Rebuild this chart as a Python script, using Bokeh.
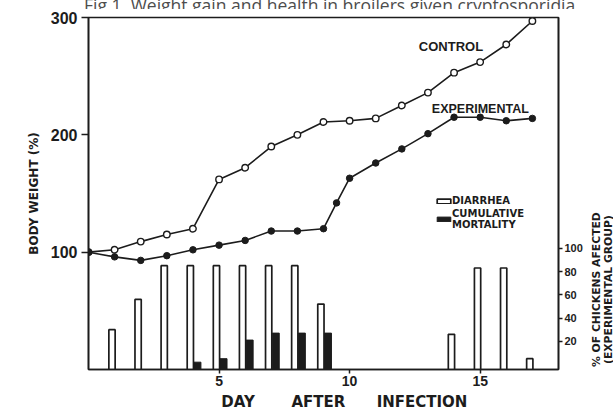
from bokeh.plotting import figure
from bokeh.layouts import column, row
from bokeh.models import Range1d, LinearAxis, FixedTicker, Label, Legend, LegendItem, Div
from bokeh.embed import file_html
from bokeh.resources import INLINE

# ---- data ----
control_days = [0, 1, 2, 3, 4, 5, 6, 7, 8, 9, 10, 11, 12, 13, 14, 15, 16, 17]
control = [100, 102, 109, 115, 120, 162, 172, 190, 200, 211, 212, 214, 225, 236, 253, 262, 277, 297]
exp_days = [0, 1, 2, 3, 4, 5, 6, 7, 8, 9, 9.5, 10, 11, 12, 13, 14, 15, 16, 17]
experimental = [100, 96, 93, 97, 102, 106, 110, 118, 118, 120, 142, 163, 176, 188, 201, 215, 215, 212, 214]
diarrhea_days = [1, 2, 3, 4, 5, 6, 7, 8, 9, 14, 15, 16, 17]
diarrhea = [30, 56, 85, 85, 85, 85, 85, 85, 52, 26, 83, 83, 5]
mortality_days = [4, 5, 6, 7, 8, 9]
mortality = [2, 5, 21, 27, 27, 27]
x_ticks = [5, 10, 15]
y_ticks = [100, 200, 300]
pct_ticks = [20, 40, 60, 80, 100]

TITLE = "Fig 1. Weight gain and health in broilers given cryptosporidia"
RIGHT_LABEL = ["% OF CHICKENS AFECTED", "(EXPERIMENTAL GROUP)"]
INK = "#1c1c1c"
FONT = "Liberation Sans"
BOLD = "DejaVu Sans"
NB = "\u00a0"

p = figure(width=588, height=404, output_backend="svg", toolbar_location=None,
           x_range=Range1d(0, 18), y_range=Range1d(0, 300),
           min_border_left=88, min_border_right=30, min_border_top=8, min_border_bottom=44)
p.extra_y_ranges = {"pct": Range1d(-4.3, 298.5)}
p.grid.visible = False
p.outline_line_color = INK
p.outline_line_width = 1.6

# axes
for ax in (p.xaxis[0], p.yaxis[0]):
    ax.axis_line_color = INK
    ax.axis_line_width = 1.6
    ax.major_tick_line_color = INK
    ax.major_tick_line_width = 1.5
    ax.minor_tick_line_color = None
    ax.major_tick_in = 0
    ax.major_label_text_font = FONT
    ax.major_label_text_font_style = "bold"
    ax.major_label_text_color = INK
    ax.axis_label_text_font = BOLD
    ax.axis_label_text_font_style = "bold"
    ax.axis_label_text_color = INK

p.xaxis.ticker = FixedTicker(ticks=x_ticks)
p.xaxis.major_tick_out = 4
p.xaxis.major_label_standoff = 2
p.xaxis.major_label_text_font_size = "14px"
p.xaxis.axis_label = NB * 8 + "DAY" + NB * 7 + "AFTER" + NB * 6 + "INFECTION"
p.xaxis.axis_label_text_font_size = "15px"
p.xaxis.axis_label_standoff = 4

p.yaxis.ticker = FixedTicker(ticks=y_ticks)
p.yaxis.major_tick_out = 7
p.yaxis.major_label_standoff = 4
p.yaxis.major_label_text_font_size = "16px"
p.yaxis.axis_label = "BODY WEIGHT (%)"
p.yaxis.axis_label_text_font_size = "12px"
p.yaxis.axis_label_standoff = 7

rax = LinearAxis(y_range_name="pct", ticker=FixedTicker(ticks=pct_ticks))
rax.axis_line_color = INK
rax.axis_line_width = 1.6
rax.major_tick_line_color = INK
rax.major_tick_line_width = 1.5
rax.major_tick_in = 0
rax.major_tick_out = 4
rax.minor_tick_line_color = None
rax.major_label_standoff = 2
rax.major_label_text_font = FONT
rax.major_label_text_font_style = "bold"
rax.major_label_text_font_size = "11px"
rax.major_label_text_color = INK
p.add_layout(rax, "right")

base = p.extra_y_ranges["pct"].start

# bars
r_d = p.vbar(x=[d - 0.1 for d in diarrhea_days], top=diarrhea, bottom=base, width=0.24,
             y_range_name="pct", fill_color="white", line_color=INK, line_width=1.7)
r_m = p.vbar(x=[d + 0.17 for d in mortality_days], top=mortality, bottom=base, width=0.27,
             y_range_name="pct", fill_color=INK, line_color=INK, line_width=1)

# lines
p.line(control_days, control, line_color=INK, line_width=1.6)
p.scatter(control_days, control, size=6.5, fill_color="white", line_color=INK, line_width=1.4)
p.line(exp_days, experimental, line_color=INK, line_width=1.6)
p.scatter(exp_days, experimental, size=6.5, fill_color=INK, line_color=INK)

legend = Legend(items=[LegendItem(label="DIARRHEA", renderers=[r_d]),
                       LegendItem(label="CUMULATIVE\nMORTALITY", renderers=[r_m])],
                location=(347, 139), orientation="vertical",
                glyph_width=17, glyph_height=6, label_standoff=0, spacing=2,
                padding=0, margin=0, border_line_color=None, background_fill_alpha=0,
                label_text_font=BOLD, label_text_font_style="bold",
                label_text_font_size="10px", label_text_color=INK,
                label_text_line_height=0.8)
p.add_layout(legend, "center")

def lab(text, x, y, size):
    p.add_layout(Label(x=x, y=y, text=text, text_align="left", text_baseline="middle",
                       text_font=FONT, text_font_style="bold", text_font_size=size, text_color=INK))

lab("CONTROL", 12.65, 275, "13px")
lab("EXPERIMENTAL", 13.15, 222, "12.5px")

title = Div(text=('<div style="font-family:\'Open Sans\'; font-size:17.5px; color:#4d4d4d; '
                  'line-height:17px; margin-top:-10px; white-space:nowrap; padding-left:84px;">'
                  + TITLE + '</div>'),
            width=613, height=9, styles={"overflow": "hidden", "margin": "0", "padding": "0"})

right_label = Div(text=('<div style="position:absolute; left:3px; top:358px; '
                        'transform:rotate(-90deg); transform-origin:left top; white-space:nowrap; '
                        'font-family:\'DejaVu Sans\'; font-weight:bold; font-size:10.8px; '
                        'line-height:12px; color:#1c1c1c; text-align:center;">'
                        + RIGHT_LABEL[0] + '<br>' + RIGHT_LABEL[1] + '</div>'),
                  width=25, height=404,
                  styles={"overflow": "hidden", "position": "relative", "margin": "0", "padding": "0"})

layout = column(title, row(p, right_label, spacing=0), spacing=0)
open("out.html", "w").write(file_html(layout, INLINE))
